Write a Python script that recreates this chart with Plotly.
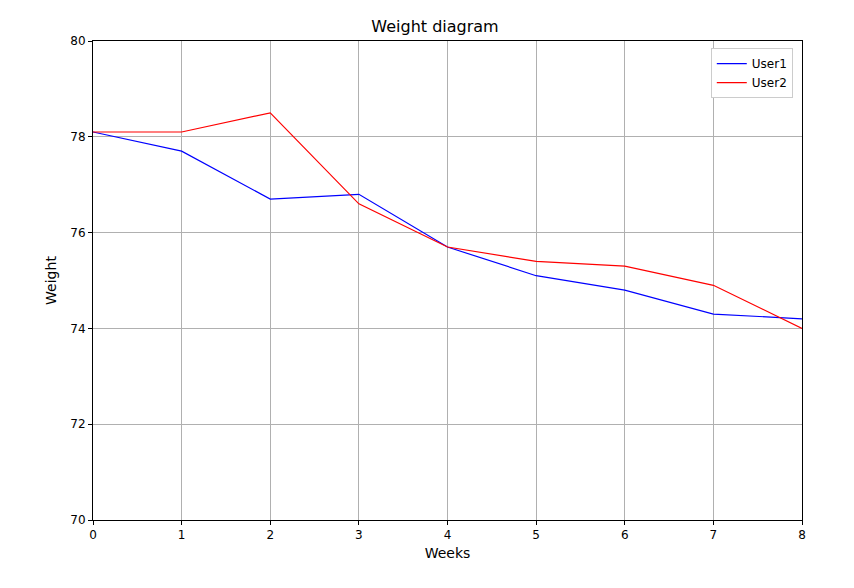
import plotly.graph_objects as go

weeks = [0, 1, 2, 3, 4, 5, 6, 7, 8]
user1 = [78.1, 77.7, 76.7, 76.8, 75.7, 75.1, 74.8, 74.3, 74.2]
user2 = [78.1, 78.1, 78.5, 76.6, 75.7, 75.4, 75.3, 74.9, 74.0]

fig = go.Figure()
fig.add_trace(go.Scatter(x=weeks, y=user1, name="User1", mode="lines",
                         line=dict(color="blue", width=1.2)))
fig.add_trace(go.Scatter(x=weeks, y=user2, name="User2", mode="lines",
                         line=dict(color="red", width=1.2)))

axis_style = dict(showline=True, linecolor="black", mirror=True, ticks="outside",
                  ticklen=4, tickcolor="black", showgrid=True, gridcolor="#b0b0b0",
                  zeroline=False)
fig.update_xaxes(range=[0, 8], dtick=1, title_text="Weeks", title_standoff=6, **axis_style)
fig.update_yaxes(range=[70, 80], dtick=2, title_text="Weight", title_standoff=10, **axis_style)

fig.update_layout(
    width=854, height=588,
    title=dict(text="Weight diagram", x=0.5, y=0.969, yanchor="middle",
               font=dict(size=16, color="black")),
    font=dict(family="DejaVu Sans", size=12, color="black"),
    plot_bgcolor="white", paper_bgcolor="white",
    margin=dict(l=85, r=60, t=33, b=76),
    legend=dict(x=0.987, y=0.985, xanchor="right", yanchor="top",
                bordercolor="#cccccc", borderwidth=1, bgcolor="white"),
)
fig.write_html("out.html")
